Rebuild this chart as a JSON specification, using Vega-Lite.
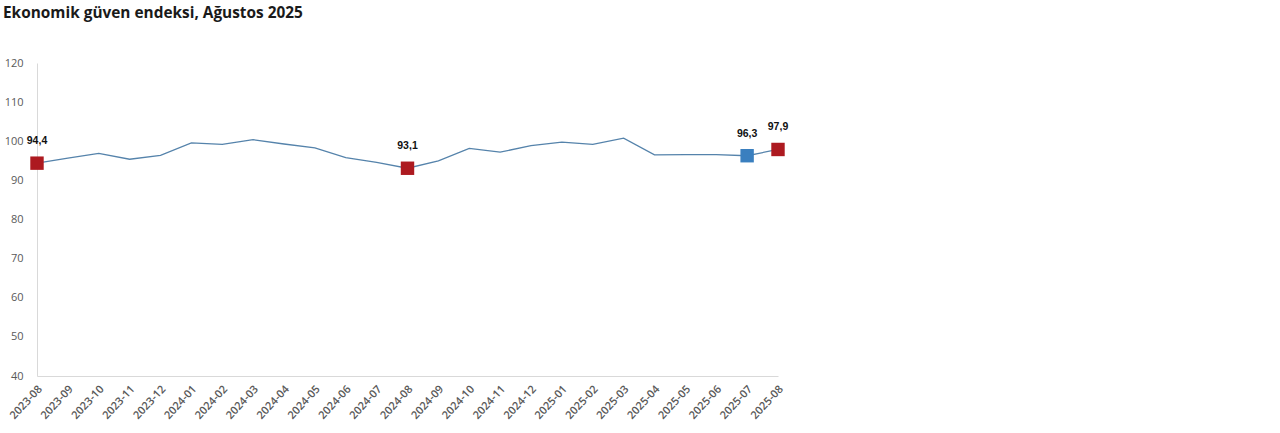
{
  "$schema": "https://vega.github.io/schema/vega-lite/v6.json",
  "autosize": {"type": "none"},
  "width": 741,
  "height": 313,
  "padding": {"left": 37, "top": 63, "right": 502, "bottom": 57},
  "background": "white",
  "title": {
    "text": "Ekonomik güven endeksi, Ağustos 2025",
    "anchor": "start",
    "frame": "group",
    "dx": -34,
    "offset": 36,
    "font": "Open Sans",
    "fontSize": 15.4,
    "fontWeight": "bold",
    "color": "#1a1a1a"
  },
  "config": {
    "view": {"stroke": null},
    "locale": {"number": {"decimal": ",", "thousands": ".", "grouping": [3], "currency": ["", " TL"]}},
    "font": "Open Sans"
  },
  "data": {
    "values": [
      {"month": "2023-08", "value": 94.4, "mark": "red"},
      {"month": "2023-09", "value": 95.7},
      {"month": "2023-10", "value": 96.9},
      {"month": "2023-11", "value": 95.4},
      {"month": "2023-12", "value": 96.4},
      {"month": "2024-01", "value": 99.6},
      {"month": "2024-02", "value": 99.2},
      {"month": "2024-03", "value": 100.4},
      {"month": "2024-04", "value": 99.3},
      {"month": "2024-05", "value": 98.3},
      {"month": "2024-06", "value": 95.8},
      {"month": "2024-07", "value": 94.6},
      {"month": "2024-08", "value": 93.1, "mark": "red"},
      {"month": "2024-09", "value": 95.0},
      {"month": "2024-10", "value": 98.2},
      {"month": "2024-11", "value": 97.2},
      {"month": "2024-12", "value": 98.9},
      {"month": "2025-01", "value": 99.8},
      {"month": "2025-02", "value": 99.2},
      {"month": "2025-03", "value": 100.8},
      {"month": "2025-04", "value": 96.5},
      {"month": "2025-05", "value": 96.6},
      {"month": "2025-06", "value": 96.6},
      {"month": "2025-07", "value": 96.3, "mark": "blue"},
      {"month": "2025-08", "value": 97.9, "mark": "red"}
    ]
  },
  "encoding": {
    "x": {
      "field": "month",
      "type": "ordinal",
      "scale": {"type": "point", "padding": 0},
      "axis": {
        "title": null,
        "labelAngle": -47,
        "labelAlign": "right",
        "labelBaseline": "middle",
        "labelPadding": 11,
        "labelOffset": 3,
        "labelFontSize": 11,
        "labelColor": "#595959",
        "labelFontWeight": 600,
        "ticks": false,
        "domainColor": "#d9d9d9",
        "grid": false
      }
    },
    "y": {
      "field": "value",
      "type": "quantitative",
      "scale": {"domain": [40, 120], "nice": false},
      "axis": {
        "title": null,
        "values": [40, 50, 60, 70, 80, 90, 100, 110, 120],
        "ticks": false,
        "grid": false,
        "labelPadding": 14,
        "labelFontSize": 11,
        "labelColor": "#595959",
        "domainColor": "#d9d9d9"
      }
    }
  },
  "layer": [
    {
      "mark": {"type": "line", "color": "#5583ab", "strokeWidth": 1.3}
    },
    {
      "transform": [{"filter": "datum.mark != null"}],
      "mark": {"type": "square", "size": 180, "opacity": 1, "filled": true},
      "encoding": {
        "color": {
          "field": "mark",
          "type": "nominal",
          "scale": {"domain": ["red", "blue"], "range": ["#ad1a20", "#3a7fbf"]},
          "legend": null
        }
      }
    },
    {
      "transform": [{"filter": "datum.mark != null"}],
      "mark": {"type": "text", "dy": -22, "fontSize": 10.5, "fontWeight": "bold", "color": "#111111", "font": "Liberation Sans"},
      "encoding": {
        "text": {"field": "value", "type": "quantitative", "format": ".1f"}
      }
    }
  ]
}
